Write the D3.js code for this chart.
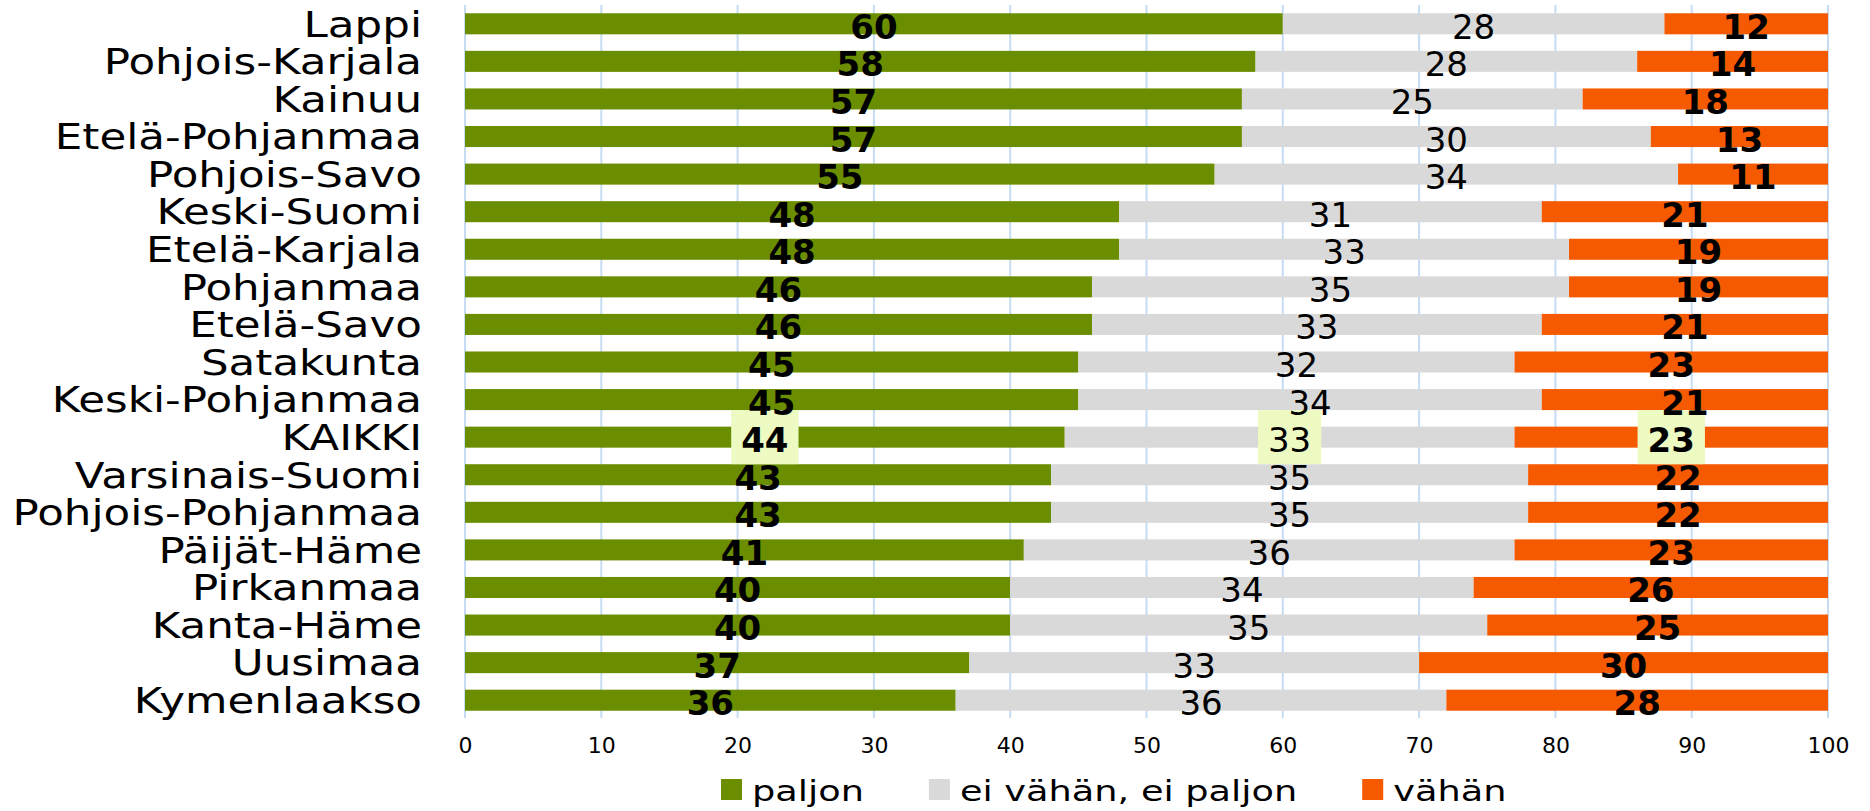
<!DOCTYPE html>
<html>
<head>
<meta charset="utf-8">
<script src="https://cdn.jsdelivr.net/npm/d3@7"></script>
<style>
  html, body { margin: 0; padding: 0; background: #ffffff; }
  svg { display: block; }
  text { font-family: "DejaVu Sans", Verdana, sans-serif; fill: #000; }
</style>
</head>
<body>
<svg id="chart" width="1870" height="811"></svg>
<script>
const categories = ["Lappi","Pohjois-Karjala","Kainuu","Etelä-Pohjanmaa","Pohjois-Savo","Keski-Suomi","Etelä-Karjala","Pohjanmaa","Etelä-Savo","Satakunta","Keski-Pohjanmaa","KAIKKI","Varsinais-Suomi","Pohjois-Pohjanmaa","Päijät-Häme","Pirkanmaa","Kanta-Häme","Uusimaa","Kymenlaakso"];
const paljon = [60,58,57,57,55,48,48,46,46,45,45,44,43,43,41,40,40,37,36];
const eiVahanEiPaljon = [28,28,25,30,34,31,33,35,33,32,34,33,35,35,36,34,35,33,36];
const vahan = [12,14,18,13,11,21,19,19,21,23,21,23,22,22,23,26,25,30,28];
const seriesNames = ["paljon","ei vähän, ei paljon","vähän"];
const seriesColors = ["#6b8e00","#d9d9d9","#f55a00"];
const tickValues = [0,10,20,30,40,50,60,70,80,90,100];
const highlightCategory = "KAIKKI";

const svg = d3.select("#chart");
const x = d3.scaleLinear().domain([0,100]).range([465,1828]);
const y = d3.scaleBand().domain(categories).range([5,719]).paddingInner(0.44).paddingOuter(0.22);

// gridlines
svg.append("g").selectAll("line").data(tickValues).join("line")
  .attr("x1", d => x(d)).attr("x2", d => x(d))
  .attr("y1", 5).attr("y2", 718)
  .attr("stroke", "#c6dcf5").attr("stroke-width", 2);

// stacked data
const rows = categories.map((c,i) => ({cat:c, vals:[paljon[i], eiVahanEiPaljon[i], vahan[i]]}));
const segs = [];
rows.forEach(r => {
  let acc = 0;
  r.vals.forEach((v,k) => { segs.push({cat:r.cat, k, v, x0:acc, x1:acc+v}); acc += v; });
});

svg.append("g").selectAll("rect").data(segs).join("rect")
  .attr("x", d => x(d.x0))
  .attr("width", d => x(d.x1) - x(d.x0))
  .attr("y", d => y(d.cat))
  .attr("height", y.bandwidth())
  .attr("fill", d => seriesColors[d.k]);

// category labels
const catScale = 1.245;
svg.append("g").selectAll("text").data(categories).join("text")
  .attr("transform", d => `translate(422,${y(d)+y.bandwidth()/2+12.8}) scale(${catScale},1)`)
  .attr("text-anchor","end")
  .style("font-size","35px")
  .text(d => d);

// data labels
const hlG = svg.append("g");
const lblG = svg.append("g");
const labels = lblG.selectAll("text").data(segs).join("text")
  .attr("x", d => x((d.x0+d.x1)/2))
  .attr("y", d => y(d.cat)+y.bandwidth()/2+15)
  .attr("text-anchor","middle")
  .style("font-size","34px")
  .style("font-weight", d => d.k === 1 ? "normal" : "bold")
  .text(d => d.v);

labels.filter(d => d.cat === highlightCategory).each(function(d){
  const bb = this.getBBox();
  const cy = y(d.cat)+y.bandwidth()/2;
  hlG.append("rect")
    .attr("x", bb.x - 10).attr("width", bb.width + 20)
    .attr("y", cy - 27).attr("height", 54)
    .attr("fill", "#edfbc2");
});

// x axis
const axis = d3.axisBottom(x).tickValues(tickValues).tickSize(0).tickPadding(0).tickFormat(d3.format("d"));
const ag = svg.append("g").attr("transform","translate(0,735)").call(axis);
ag.select(".domain").remove();
ag.selectAll("text").style("font-size","22px").style("font-family","DejaVu Sans").attr("fill","#000").attr("dy","0.8em");

// legend
const lg = svg.append("g");
let lx = 721;
const legScale = 1.335;
seriesNames.forEach((name,i) => {
  lg.append("rect").attr("x", lx).attr("y", 779).attr("width", 21).attr("height", 21).attr("fill", seriesColors[i]);
  const t = lg.append("text")
    .attr("transform", `translate(${lx+31},801) scale(${legScale},1)`)
    .style("font-size","27.5px")
    .text(name);
  const w = t.node().getComputedTextLength()*legScale;
  lx = lx + 31 + w + 65;
});
</script>
</body>
</html>
